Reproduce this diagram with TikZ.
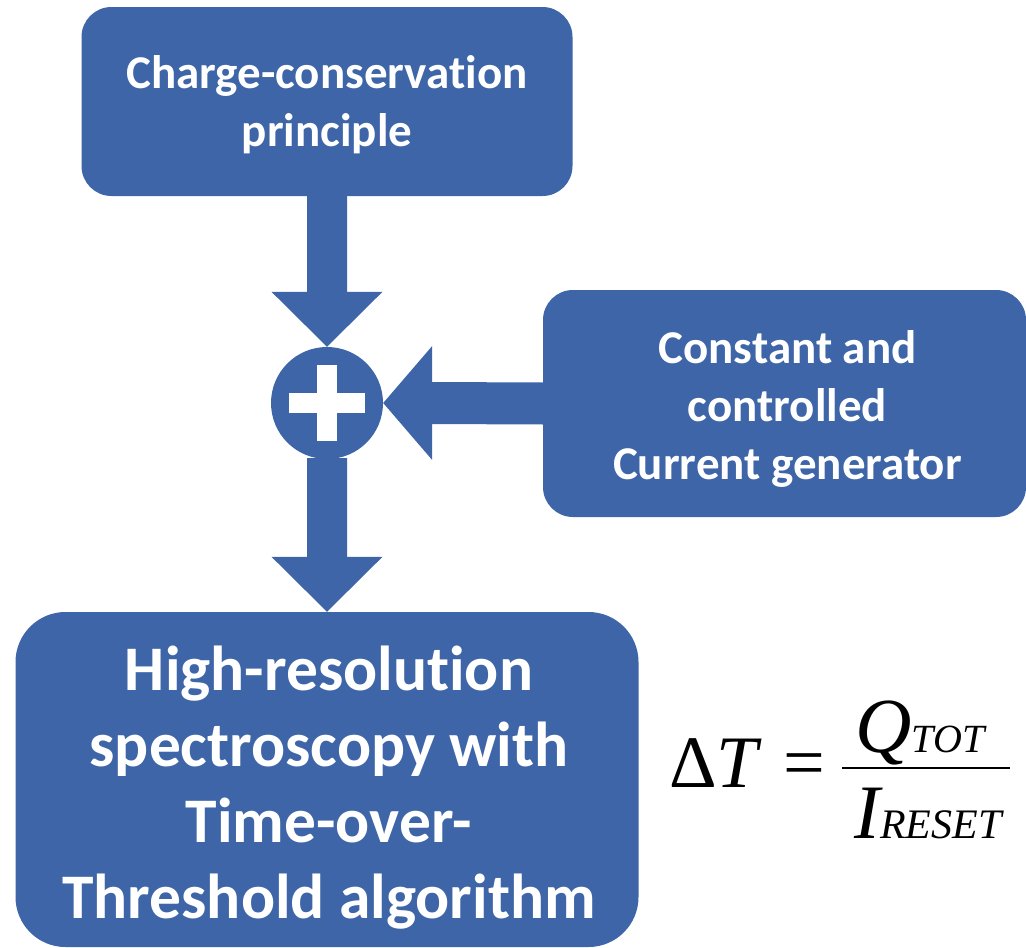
\documentclass[tikz,border=0pt]{standalone}
\usepackage{fontspec}
\setmainfont[Ligatures=NoCommon]{Carlito}
\newfontfamily\timesf{Liberation Serif}
\usetikzlibrary{calc}
\definecolor{boxblue}{RGB}{61,101,167}
\begin{document}
\begin{tikzpicture}[x=1pt,y=-1pt,
  blk/.style={fill=boxblue, draw=none, inner sep=0pt, rounded corners=30pt},
  txt/.style={text=white, font=\bfseries\fontsize{47}{58}\selectfont, align=center, inner sep=0pt},
  frm/.style={inner sep=0pt, font=\timesf},
]
\useasboundingbox (0,0) rectangle (1026,948);
\node[blk, minimum width=491pt, minimum height=189pt] (top) at (327,101.5) {};
\node[txt] (toptext) at ($(top.center)+(0,3)$) {Charge-conservation\\principle};
\node[blk, minimum width=483pt, minimum height=227pt] (gen) at (784.5,403.5) {};
\node[txt] (gentext) at ($(gen.center)+(3,5)$) {Constant and\\controlled\\Current generator};
\node[blk, minimum width=623pt, minimum height=335pt, rounded corners=50pt] (out) at (327,779.5) {};
\node[txt, font=\bfseries\fontsize{63.5}{76}\selectfont] (outtext) at ($(out.center)+(2,8)$) {High-resolution\\spectroscopy with\\Time-over-\\Threshold algorithm};
\node[circle, fill=boxblue, minimum size=112pt, inner sep=0pt] (sum) at (327,403) {};
\fill[white] ($(sum)+(-38,-10)$) rectangle ($(sum)+(38,10)$);
\fill[white] ($(sum)+(-10,-38)$) rectangle ($(sum)+(10,38)$);
% top -> sum
\fill[boxblue] ($(top.south)+(-20,-1)$) -- ($(sum.north)+(-20,-55)$) -- ($(sum.north)+(-55.5,-55)$) -- (sum.north) -- ($(sum.north)+(55.5,-55)$) -- ($(sum.north)+(20,-55)$) -- ($(top.south)+(20,-1)$) -- cycle;
% gen -> sum
\fill[boxblue] ($(gen.west)+(1,-21)$) -- ($(sum.east)+(49,-21)$) -- ($(sum.east)+(49,-57)$) -- (sum.east) -- ($(sum.east)+(49,57)$) -- ($(sum.east)+(49,21)$) -- ($(gen.west)+(1,21)$) -- cycle;
% sum -> out
\fill[boxblue] ($(sum.south)+(-20,-1)$) -- ($(out.north)+(-20,-55)$) -- ($(out.north)+(-55.5,-55)$) -- (out.north) -- ($(out.north)+(55.5,-55)$) -- ($(out.north)+(20,-55)$) -- ($(sum.south)+(20,-1)$) -- cycle;
% formula
\node[frm, anchor=base west, font=\timesf\fontsize{74}{80}\selectfont] (lhs) at (669,787) {Δ\textit{T}};
\node[frm, anchor=base west, font=\timesf\fontsize{74}{80}\selectfont] (eq) at (783,787) {=};
\node[frm, anchor=base] (num) at (920,752) {\itshape\fontsize{78}{80}\selectfont Q\fontsize{40}{44}\selectfont TOT};
\node[frm, anchor=base] (den) at (928,838) {\itshape\fontsize{77}{80}\selectfont I\fontsize{42}{44}\selectfont RESET};
\coordinate (barL) at (842,768);
\coordinate (barR) at (1010,768);
\draw[line width=2.5pt] (barL) -- (barR);
\end{tikzpicture}
\end{document}
